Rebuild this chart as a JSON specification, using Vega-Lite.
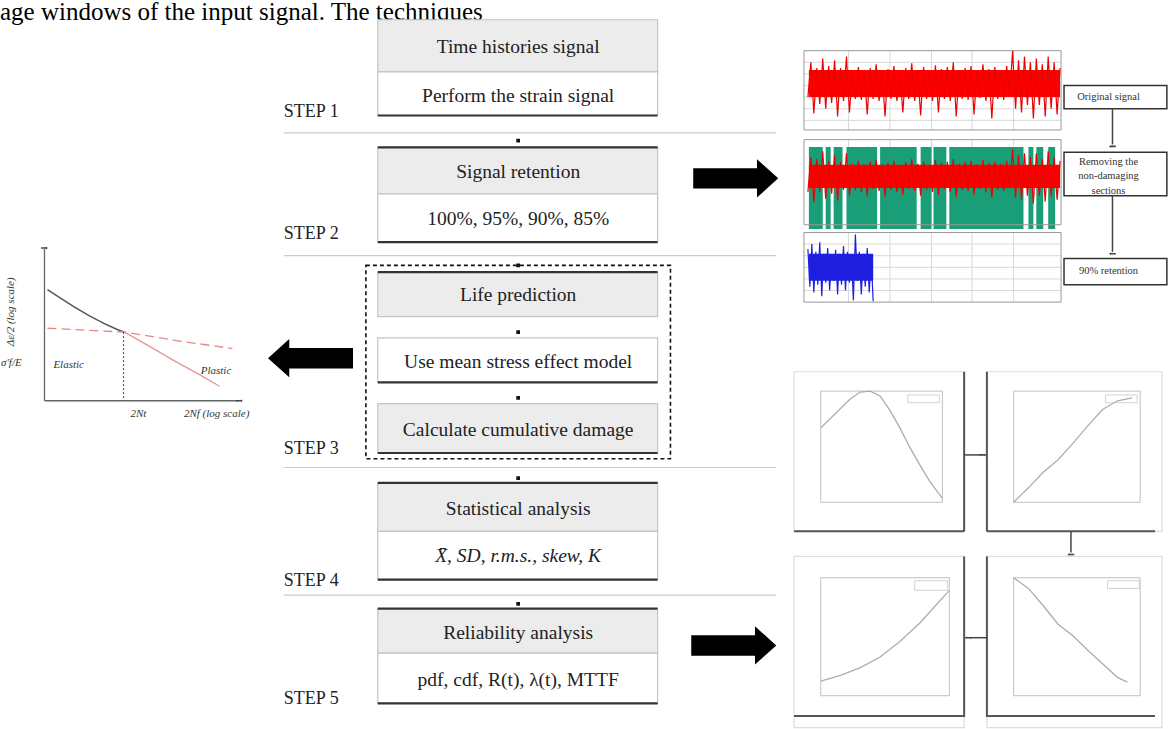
{
  "$schema": "https://vega.github.io/schema/vega-lite/v6.json",
  "width": 1168,
  "height": 729,
  "autosize": {"type": "fit", "contains": "padding"},
  "padding": 0,
  "background": "white",
  "config": {"view": {"stroke": null}},
  "layer": [
    {
      "data": {"values": [{"x": 0, "y": 8, "t": "age windows of the input signal. The techniques"}]},
      "mark": {"type": "text", "align": "left", "baseline": "alphabetic", "font": "Liberation Serif", "fontSize": 25, "color": "#000"},
      "encoding": {
        "x": {"field": "x", "type": "quantitative", "scale": {"domain": [0, 1168], "nice": false, "zero": false}, "axis": null},
        "y": {"field": "y", "type": "quantitative", "scale": {"domain": [0, 729], "nice": false, "zero": false, "reverse": true}, "axis": null},
        "text": {"field": "t"}
      }
    },
    {
      "data": {"values": [
        {"x": 287, "x2": 785, "y": 125}, {"x": 287, "x2": 785, "y": 252},
        {"x": 287, "x2": 785, "y": 471}, {"x": 287, "x2": 785, "y": 603}
      ]},
      "mark": {"type": "rule", "color": "#cccccc", "strokeWidth": 1.2},
      "encoding": {
        "x": {"field": "x", "type": "quantitative", "scale": {"domain": [0, 1168], "nice": false, "zero": false}, "axis": null},
        "x2": {"field": "x2"},
        "y": {"field": "y", "type": "quantitative", "scale": {"domain": [0, 729], "nice": false, "zero": false, "reverse": true}, "axis": null}
      }
    },
    {
      "data": {"values": [
        {"x": 382, "x2": 665, "y": 8, "y2": 62}, {"x": 382, "x2": 665, "y": 140, "y2": 188},
        {"x": 382, "x2": 665, "y": 269, "y2": 315}, {"x": 382, "x2": 665, "y": 405, "y2": 456},
        {"x": 382, "x2": 665, "y": 487, "y2": 537}, {"x": 382, "x2": 665, "y": 617, "y2": 663}
      ]},
      "mark": {"type": "rect", "fill": "#ececec", "stroke": "#c4c4c4", "strokeWidth": 1.2},
      "encoding": {
        "x": {"field": "x", "type": "quantitative", "scale": {"domain": [0, 1168], "nice": false, "zero": false}, "axis": null},
        "x2": {"field": "x2"},
        "y": {"field": "y", "type": "quantitative", "scale": {"domain": [0, 729], "nice": false, "zero": false, "reverse": true}, "axis": null},
        "y2": {"field": "y2"}
      }
    },
    {
      "data": {"values": [
        {"x": 382, "x2": 665, "y": 62, "y2": 107}, {"x": 382, "x2": 665, "y": 188, "y2": 238},
        {"x": 382, "x2": 665, "y": 337, "y2": 383}, {"x": 382, "x2": 665, "y": 537, "y2": 587},
        {"x": 382, "x2": 665, "y": 663, "y2": 715}
      ]},
      "mark": {"type": "rect", "fill": "#ffffff", "stroke": "#c4c4c4", "strokeWidth": 1.2},
      "encoding": {
        "x": {"field": "x", "type": "quantitative", "scale": {"domain": [0, 1168], "nice": false, "zero": false}, "axis": null},
        "x2": {"field": "x2"},
        "y": {"field": "y", "type": "quantitative", "scale": {"domain": [0, 729], "nice": false, "zero": false, "reverse": true}, "axis": null},
        "y2": {"field": "y2"}
      }
    },
    {
      "data": {"values": [
        {"x": 382, "x2": 665, "y": 107}, {"x": 382, "x2": 665, "y": 140}, {"x": 382, "x2": 665, "y": 238},
        {"x": 382, "x2": 665, "y": 269}, {"x": 382, "x2": 665, "y": 383}, {"x": 382, "x2": 665, "y": 456},
        {"x": 382, "x2": 665, "y": 487}, {"x": 382, "x2": 665, "y": 587}, {"x": 382, "x2": 665, "y": 617},
        {"x": 382, "x2": 665, "y": 715}
      ]},
      "mark": {"type": "rule", "color": "#333333", "strokeWidth": 2.2},
      "encoding": {
        "x": {"field": "x", "type": "quantitative", "scale": {"domain": [0, 1168], "nice": false, "zero": false}, "axis": null},
        "x2": {"field": "x2"},
        "y": {"field": "y", "type": "quantitative", "scale": {"domain": [0, 729], "nice": false, "zero": false, "reverse": true}, "axis": null}
      }
    },
    {
      "data": {"values": [{"x": 370, "x2": 678, "y": 262, "y2": 462}]},
      "mark": {"type": "rect", "fill": null, "fillOpacity": 0, "stroke": "#111111", "strokeWidth": 1.6, "strokeDash": [4, 3]},
      "encoding": {
        "x": {"field": "x", "type": "quantitative", "scale": {"domain": [0, 1168], "nice": false, "zero": false}, "axis": null},
        "x2": {"field": "x2"},
        "y": {"field": "y", "type": "quantitative", "scale": {"domain": [0, 729], "nice": false, "zero": false, "reverse": true}, "axis": null},
        "y2": {"field": "y2"}
      }
    },
    {
      "data": {"values": [
        {"x": 524, "y": 133}, {"x": 524, "y": 262}, {"x": 524, "y": 331},
        {"x": 524, "y": 399}, {"x": 524, "y": 482}, {"x": 524, "y": 612}
      ]},
      "mark": {"type": "point", "shape": "square", "filled": true, "size": 14, "color": "#111111", "opacity": 1},
      "encoding": {
        "x": {"field": "x", "type": "quantitative", "scale": {"domain": [0, 1168], "nice": false, "zero": false}, "axis": null},
        "y": {"field": "y", "type": "quantitative", "scale": {"domain": [0, 729], "nice": false, "zero": false, "reverse": true}, "axis": null}
      }
    },
    {
      "data": {"values": [
        {"x": 524, "y": 36, "t": "Time histories signal"},
        {"x": 524, "y": 87, "t": "Perform the strain signal"},
        {"x": 524, "y": 165, "t": "Signal retention"},
        {"x": 524, "y": 214, "t": "100%, 95%, 90%, 85%"},
        {"x": 524, "y": 293, "t": "Life prediction"},
        {"x": 524, "y": 362, "t": "Use mean stress effect model"},
        {"x": 524, "y": 432, "t": "Calculate cumulative damage"},
        {"x": 524, "y": 514, "t": "Statistical analysis"},
        {"x": 524, "y": 642, "t": "Reliability analysis"},
        {"x": 524, "y": 691, "t": "pdf, cdf, R(t), λ(t), MTTF"}
      ]},
      "mark": {"type": "text", "align": "center", "baseline": "middle", "font": "Liberation Serif", "fontSize": 19.5, "color": "#222222"},
      "encoding": {
        "x": {"field": "x", "type": "quantitative", "scale": {"domain": [0, 1168], "nice": false, "zero": false}, "axis": null},
        "y": {"field": "y", "type": "quantitative", "scale": {"domain": [0, 729], "nice": false, "zero": false, "reverse": true}, "axis": null},
        "text": {"field": "t"}
      }
    },
    {
      "data": {"values": [{"x": 524, "y": 563, "t": "X̄, SD, r.m.s., skew, K"}]},
      "mark": {"type": "text", "align": "center", "baseline": "middle", "font": "Liberation Serif", "fontSize": 19.5, "fontStyle": "italic", "color": "#222222"},
      "encoding": {
        "x": {"field": "x", "type": "quantitative", "scale": {"domain": [0, 1168], "nice": false, "zero": false}, "axis": null},
        "y": {"field": "y", "type": "quantitative", "scale": {"domain": [0, 729], "nice": false, "zero": false, "reverse": true}, "axis": null},
        "text": {"field": "t"}
      }
    },
    {
      "data": {"values": [
        {"x": 287, "y": 103, "t": "STEP 1"}, {"x": 287, "y": 230, "t": "STEP 2"},
        {"x": 287, "y": 452, "t": "STEP 3"}, {"x": 287, "y": 588, "t": "STEP 4"},
        {"x": 287, "y": 710, "t": "STEP 5"}
      ]},
      "mark": {"type": "text", "align": "left", "baseline": "middle", "font": "Liberation Serif", "fontSize": 18, "color": "#222222"},
      "encoding": {
        "x": {"field": "x", "type": "quantitative", "scale": {"domain": [0, 1168], "nice": false, "zero": false}, "axis": null},
        "y": {"field": "y", "type": "quantitative", "scale": {"domain": [0, 729], "nice": false, "zero": false, "reverse": true}, "axis": null},
        "text": {"field": "t"}
      }
    },
    {
      "data": {"values": [
        {"x": 744, "y": 172, "dir": "right"}, {"x": 742, "y": 655, "dir": "right"}, {"x": 314, "y": 358, "dir": "left"}
      ]},
      "mark": {"type": "point", "filled": true, "size": 7225, "color": "#000000", "opacity": 1, "strokeWidth": 0},
      "encoding": {
        "x": {"field": "x", "type": "quantitative", "scale": {"domain": [0, 1168], "nice": false, "zero": false}, "axis": null},
        "y": {"field": "y", "type": "quantitative", "scale": {"domain": [0, 729], "nice": false, "zero": false, "reverse": true}, "axis": null},
        "shape": {"field": "dir", "type": "nominal", "legend": null, "scale": {"domain": ["right", "left"], "range": ["M-1,-0.24L0.5,-0.24L0.5,-0.45L1,0L0.5,0.45L0.5,0.24L-1,0.24Z", "M1,-0.24L-0.5,-0.24L-0.5,-0.45L-1,0L-0.5,0.45L-0.5,0.24L1,0.24Z"]}}
      }
    },
    {
      "data": {"values": [
        {"x": 45, "x2": 45, "y": 245, "y2": 402}, {"x": 45, "x2": 241, "y": 402, "y2": 402}
      ]},
      "mark": {"type": "rule", "color": "#666666", "strokeWidth": 1.3},
      "encoding": {
        "x": {"field": "x", "type": "quantitative", "scale": {"domain": [0, 1168], "nice": false, "zero": false}, "axis": null},
        "x2": {"field": "x2"},
        "y": {"field": "y", "type": "quantitative", "scale": {"domain": [0, 729], "nice": false, "zero": false, "reverse": true}, "axis": null},
        "y2": {"field": "y2"}
      }
    },
    {
      "data": {"values": [
        {"x": 48, "y": 287}, {"x": 60, "y": 295}, {"x": 75, "y": 305}, {"x": 90, "y": 314},
        {"x": 105, "y": 322}, {"x": 118, "y": 328}, {"x": 126, "y": 331}
      ]},
      "mark": {"type": "line", "color": "#555555", "strokeWidth": 1.5},
      "encoding": {
        "x": {"field": "x", "type": "quantitative", "scale": {"domain": [0, 1168], "nice": false, "zero": false}, "axis": null},
        "y": {"field": "y", "type": "quantitative", "scale": {"domain": [0, 729], "nice": false, "zero": false, "reverse": true}, "axis": null}
      }
    },
    {
      "data": {"values": [
        {"x": 126, "y": 331}, {"x": 150, "y": 345}, {"x": 175, "y": 360}, {"x": 200, "y": 374}, {"x": 222, "y": 387}
      ]},
      "mark": {"type": "line", "color": "#e79595", "strokeWidth": 1.3},
      "encoding": {
        "x": {"field": "x", "type": "quantitative", "scale": {"domain": [0, 1168], "nice": false, "zero": false}, "axis": null},
        "y": {"field": "y", "type": "quantitative", "scale": {"domain": [0, 729], "nice": false, "zero": false, "reverse": true}, "axis": null}
      }
    },
    {
      "data": {"values": [
        {"x": 48, "y": 327}, {"x": 126, "y": 331}, {"x": 180, "y": 340}, {"x": 235, "y": 348}
      ]},
      "mark": {"type": "line", "color": "#e08a8a", "strokeWidth": 1.3, "strokeDash": [9, 5]},
      "encoding": {
        "x": {"field": "x", "type": "quantitative", "scale": {"domain": [0, 1168], "nice": false, "zero": false}, "axis": null},
        "y": {"field": "y", "type": "quantitative", "scale": {"domain": [0, 729], "nice": false, "zero": false, "reverse": true}, "axis": null}
      }
    },
    {
      "data": {"values": [{"x": 125, "y": 331, "y2": 402}]},
      "mark": {"type": "rule", "color": "#444444", "strokeWidth": 1, "strokeDash": [2, 2]},
      "encoding": {
        "x": {"field": "x", "type": "quantitative", "scale": {"domain": [0, 1168], "nice": false, "zero": false}, "axis": null},
        "y": {"field": "y", "type": "quantitative", "scale": {"domain": [0, 729], "nice": false, "zero": false, "reverse": true}, "axis": null},
        "y2": {"field": "y2"}
      }
    },
    {
      "data": {"values": [
        {"x": 132, "y": 416, "t": "2Nt"}, {"x": 186, "y": 416, "t": "2Nf (log scale)"},
        {"x": 54, "y": 365, "t": "Elastic"}, {"x": 203, "y": 371, "t": "Plastic"},
        {"x": 1, "y": 363, "t": "σ′f/E"}
      ]},
      "mark": {"type": "text", "align": "left", "baseline": "middle", "font": "Liberation Serif", "fontSize": 11, "fontStyle": "italic", "color": "#333333"},
      "encoding": {
        "x": {"field": "x", "type": "quantitative", "scale": {"domain": [0, 1168], "nice": false, "zero": false}, "axis": null},
        "y": {"field": "y", "type": "quantitative", "scale": {"domain": [0, 729], "nice": false, "zero": false, "reverse": true}, "axis": null},
        "text": {"field": "t"}
      }
    },
    {
      "data": {"values": [{"x": 11, "y": 310, "t": "Δε/2 (log scale)"}]},
      "mark": {"type": "text", "align": "center", "baseline": "middle", "angle": 270, "font": "Liberation Serif", "fontSize": 11, "fontStyle": "italic", "color": "#333333"},
      "encoding": {
        "x": {"field": "x", "type": "quantitative", "scale": {"domain": [0, 1168], "nice": false, "zero": false}, "axis": null},
        "y": {"field": "y", "type": "quantitative", "scale": {"domain": [0, 729], "nice": false, "zero": false, "reverse": true}, "axis": null},
        "text": {"field": "t"}
      }
    },
    {
      "data": {"values": [
        {"x": 858, "x2": 858, "y": 40, "y2": 122}, {"x": 900, "x2": 900, "y": 40, "y2": 122}, {"x": 942, "x2": 942, "y": 40, "y2": 122}, {"x": 983, "x2": 983, "y": 40, "y2": 122}, {"x": 1025, "x2": 1025, "y": 40, "y2": 122},
        {"x": 858, "x2": 858, "y": 132, "y2": 220}, {"x": 900, "x2": 900, "y": 132, "y2": 220}, {"x": 942, "x2": 942, "y": 132, "y2": 220}, {"x": 983, "x2": 983, "y": 132, "y2": 220}, {"x": 1025, "x2": 1025, "y": 132, "y2": 220},
        {"x": 858, "x2": 858, "y": 228, "y2": 300}, {"x": 900, "x2": 900, "y": 228, "y2": 300}, {"x": 942, "x2": 942, "y": 228, "y2": 300}, {"x": 983, "x2": 983, "y": 228, "y2": 300}, {"x": 1025, "x2": 1025, "y": 228, "y2": 300},
        {"x": 813, "x2": 1073, "y": 52, "y2": 52}, {"x": 813, "x2": 1073, "y": 64, "y2": 64}, {"x": 813, "x2": 1073, "y": 76, "y2": 76}, {"x": 813, "x2": 1073, "y": 88, "y2": 88}, {"x": 813, "x2": 1073, "y": 100, "y2": 100}, {"x": 813, "x2": 1073, "y": 112, "y2": 112},
        {"x": 813, "x2": 1073, "y": 240, "y2": 240}, {"x": 813, "x2": 1073, "y": 252, "y2": 252}, {"x": 813, "x2": 1073, "y": 264, "y2": 264}, {"x": 813, "x2": 1073, "y": 276, "y2": 276}, {"x": 813, "x2": 1073, "y": 288, "y2": 288}
      ]},
      "mark": {"type": "rule", "color": "#d8d8d8", "strokeWidth": 1},
      "encoding": {
        "x": {"field": "x", "type": "quantitative", "scale": {"domain": [0, 1168], "nice": false, "zero": false}, "axis": null},
        "x2": {"field": "x2"},
        "y": {"field": "y", "type": "quantitative", "scale": {"domain": [0, 729], "nice": false, "zero": false, "reverse": true}, "axis": null},
        "y2": {"field": "y2"}
      }
    },
    {
      "data": {"values": [
        {"x": 818, "x2": 832}, {"x": 835, "x2": 840}, {"x": 843, "x2": 852}, {"x": 856, "x2": 887},
        {"x": 890, "x2": 927}, {"x": 931, "x2": 942}, {"x": 944, "x2": 957}, {"x": 960, "x2": 1035},
        {"x": 1040, "x2": 1045}, {"x": 1048, "x2": 1055}, {"x": 1060, "x2": 1067}
      ]},
      "mark": {"type": "rect", "color": "#1a9e77", "y": 135, "y2": 217, "opacity": 1},
      "encoding": {
        "x": {"field": "x", "type": "quantitative", "scale": {"domain": [0, 1168], "nice": false, "zero": false}, "axis": null},
        "x2": {"field": "x2"}
      }
    },
    {
      "data": {"values": [
        {"x": 813, "x2": 1073, "y": 40, "y2": 122}, {"x": 813, "x2": 1073, "y": 132, "y2": 220}, {"x": 813, "x2": 1073, "y": 228, "y2": 300}
      ]},
      "mark": {"type": "rect", "fill": null, "fillOpacity": 0, "stroke": "#999999", "strokeWidth": 1},
      "encoding": {
        "x": {"field": "x", "type": "quantitative", "scale": {"domain": [0, 1168], "nice": false, "zero": false}, "axis": null},
        "x2": {"field": "x2"},
        "y": {"field": "y", "type": "quantitative", "scale": {"domain": [0, 729], "nice": false, "zero": false, "reverse": true}, "axis": null},
        "y2": {"field": "y2"}
      }
    },
    {
      "data": {"values": [
        {"x": 818, "x2": 1072, "y": 60, "y2": 88}, {"x": 818, "x2": 1072, "y": 158, "y2": 182}
      ]},
      "mark": {"type": "rect", "color": "#ff0000", "opacity": 1},
      "encoding": {
        "x": {"field": "x", "type": "quantitative", "scale": {"domain": [0, 1168], "nice": false, "zero": false}, "axis": null},
        "x2": {"field": "x2"},
        "y": {"field": "y", "type": "quantitative", "scale": {"domain": [0, 729], "nice": false, "zero": false, "reverse": true}, "axis": null},
        "y2": {"field": "y2"}
      }
    },
    {
      "data": {"values": [
        {"s": 1, "x": 817, "y": 88}, {"s": 1, "x": 820, "y": 52}, {"s": 1, "x": 823, "y": 105}, {"s": 1, "x": 826, "y": 58}, {"s": 1, "x": 829, "y": 95}, {"s": 1, "x": 832, "y": 48}, {"s": 1, "x": 835, "y": 100}, {"s": 1, "x": 838, "y": 56}, {"s": 1, "x": 841, "y": 94}, {"s": 1, "x": 844, "y": 50}, {"s": 1, "x": 847, "y": 108}, {"s": 1, "x": 850, "y": 58}, {"s": 1, "x": 853, "y": 92}, {"s": 1, "x": 856, "y": 46}, {"s": 1, "x": 859, "y": 104},
        {"s": 1, "x": 862, "y": 62}, {"s": 1, "x": 865, "y": 90}, {"s": 1, "x": 868, "y": 57}, {"s": 1, "x": 871, "y": 91}, {"s": 1, "x": 874, "y": 60}, {"s": 1, "x": 877, "y": 106}, {"s": 1, "x": 880, "y": 58}, {"s": 1, "x": 883, "y": 90}, {"s": 1, "x": 886, "y": 54}, {"s": 1, "x": 889, "y": 92}, {"s": 1, "x": 892, "y": 61}, {"s": 1, "x": 895, "y": 108}, {"s": 1, "x": 898, "y": 59}, {"s": 1, "x": 901, "y": 90}, {"s": 1, "x": 904, "y": 56}, {"s": 1, "x": 907, "y": 92}, {"s": 1, "x": 910, "y": 62}, {"s": 1, "x": 913, "y": 104}, {"s": 1, "x": 916, "y": 58}, {"s": 1, "x": 919, "y": 90}, {"s": 1, "x": 922, "y": 53}, {"s": 1, "x": 925, "y": 92}, {"s": 1, "x": 928, "y": 60}, {"s": 1, "x": 931, "y": 107}, {"s": 1, "x": 934, "y": 57}, {"s": 1, "x": 937, "y": 90}, {"s": 1, "x": 940, "y": 61}, {"s": 1, "x": 943, "y": 92}, {"s": 1, "x": 946, "y": 55}, {"s": 1, "x": 949, "y": 104}, {"s": 1, "x": 952, "y": 59}, {"s": 1, "x": 955, "y": 90}, {"s": 1, "x": 958, "y": 57}, {"s": 1, "x": 961, "y": 92}, {"s": 1, "x": 964, "y": 52}, {"s": 1, "x": 967, "y": 108}, {"s": 1, "x": 970, "y": 60}, {"s": 1, "x": 973, "y": 90}, {"s": 1, "x": 976, "y": 58}, {"s": 1, "x": 979, "y": 91}, {"s": 1, "x": 982, "y": 56}, {"s": 1, "x": 985, "y": 106}, {"s": 1, "x": 988, "y": 61}, {"s": 1, "x": 991, "y": 89}, {"s": 1, "x": 994, "y": 54}, {"s": 1, "x": 997, "y": 92}, {"s": 1, "x": 1000, "y": 59}, {"s": 1, "x": 1003, "y": 110}, {"s": 1, "x": 1006, "y": 57}, {"s": 1, "x": 1009, "y": 90}, {"s": 1, "x": 1012, "y": 60}, {"s": 1, "x": 1015, "y": 91}, {"s": 1, "x": 1018, "y": 56}, {"s": 1, "x": 1021, "y": 86},
        {"s": 1, "x": 1024, "y": 40}, {"s": 1, "x": 1027, "y": 100}, {"s": 1, "x": 1030, "y": 50}, {"s": 1, "x": 1033, "y": 104}, {"s": 1, "x": 1036, "y": 46}, {"s": 1, "x": 1039, "y": 96}, {"s": 1, "x": 1042, "y": 52}, {"s": 1, "x": 1045, "y": 110}, {"s": 1, "x": 1048, "y": 48}, {"s": 1, "x": 1051, "y": 96}, {"s": 1, "x": 1054, "y": 54}, {"s": 1, "x": 1057, "y": 108}, {"s": 1, "x": 1060, "y": 46}, {"s": 1, "x": 1063, "y": 100}, {"s": 1, "x": 1066, "y": 52}, {"s": 1, "x": 1069, "y": 106}, {"s": 1, "x": 1072, "y": 58},
        {"s": 2, "x": 817, "y": 186}, {"s": 2, "x": 820, "y": 150}, {"s": 2, "x": 823, "y": 197}, {"s": 2, "x": 826, "y": 152}, {"s": 2, "x": 829, "y": 186}, {"s": 2, "x": 832, "y": 144}, {"s": 2, "x": 835, "y": 193}, {"s": 2, "x": 838, "y": 154}, {"s": 2, "x": 841, "y": 188}, {"s": 2, "x": 844, "y": 148}, {"s": 2, "x": 847, "y": 195}, {"s": 2, "x": 850, "y": 155}, {"s": 2, "x": 853, "y": 184}, {"s": 2, "x": 856, "y": 146}, {"s": 2, "x": 859, "y": 190},
        {"s": 2, "x": 862, "y": 157}, {"s": 2, "x": 865, "y": 184}, {"s": 2, "x": 868, "y": 154}, {"s": 2, "x": 871, "y": 186}, {"s": 2, "x": 874, "y": 158}, {"s": 2, "x": 877, "y": 190}, {"s": 2, "x": 880, "y": 155}, {"s": 2, "x": 883, "y": 183}, {"s": 2, "x": 886, "y": 153}, {"s": 2, "x": 889, "y": 185}, {"s": 2, "x": 892, "y": 158}, {"s": 2, "x": 895, "y": 191}, {"s": 2, "x": 898, "y": 156}, {"s": 2, "x": 901, "y": 184}, {"s": 2, "x": 904, "y": 154}, {"s": 2, "x": 907, "y": 186}, {"s": 2, "x": 910, "y": 159}, {"s": 2, "x": 913, "y": 189}, {"s": 2, "x": 916, "y": 155}, {"s": 2, "x": 919, "y": 183}, {"s": 2, "x": 922, "y": 152}, {"s": 2, "x": 925, "y": 185}, {"s": 2, "x": 928, "y": 157}, {"s": 2, "x": 931, "y": 190}, {"s": 2, "x": 934, "y": 155}, {"s": 2, "x": 937, "y": 184}, {"s": 2, "x": 940, "y": 158}, {"s": 2, "x": 943, "y": 186}, {"s": 2, "x": 946, "y": 153}, {"s": 2, "x": 949, "y": 189}, {"s": 2, "x": 952, "y": 156}, {"s": 2, "x": 955, "y": 183}, {"s": 2, "x": 958, "y": 155}, {"s": 2, "x": 961, "y": 186}, {"s": 2, "x": 964, "y": 152}, {"s": 2, "x": 967, "y": 191}, {"s": 2, "x": 970, "y": 157}, {"s": 2, "x": 973, "y": 184}, {"s": 2, "x": 976, "y": 155}, {"s": 2, "x": 979, "y": 185}, {"s": 2, "x": 982, "y": 154}, {"s": 2, "x": 985, "y": 189}, {"s": 2, "x": 988, "y": 158}, {"s": 2, "x": 991, "y": 183}, {"s": 2, "x": 994, "y": 153}, {"s": 2, "x": 997, "y": 186}, {"s": 2, "x": 1000, "y": 156}, {"s": 2, "x": 1003, "y": 192}, {"s": 2, "x": 1006, "y": 155}, {"s": 2, "x": 1009, "y": 184}, {"s": 2, "x": 1012, "y": 157}, {"s": 2, "x": 1015, "y": 185}, {"s": 2, "x": 1018, "y": 154}, {"s": 2, "x": 1021, "y": 182},
        {"s": 2, "x": 1024, "y": 142}, {"s": 2, "x": 1027, "y": 192}, {"s": 2, "x": 1030, "y": 148}, {"s": 2, "x": 1033, "y": 194}, {"s": 2, "x": 1036, "y": 146}, {"s": 2, "x": 1039, "y": 190}, {"s": 2, "x": 1042, "y": 150}, {"s": 2, "x": 1045, "y": 198}, {"s": 2, "x": 1048, "y": 146}, {"s": 2, "x": 1051, "y": 190}, {"s": 2, "x": 1054, "y": 152}, {"s": 2, "x": 1057, "y": 196}, {"s": 2, "x": 1060, "y": 144}, {"s": 2, "x": 1063, "y": 190}, {"s": 2, "x": 1066, "y": 150}, {"s": 2, "x": 1069, "y": 194}, {"s": 2, "x": 1072, "y": 154}
      ]},
      "mark": {"type": "line", "color": "#ee0000", "strokeWidth": 1.2},
      "encoding": {
        "x": {"field": "x", "type": "quantitative", "scale": {"domain": [0, 1168], "nice": false, "zero": false}, "axis": null},
        "y": {"field": "y", "type": "quantitative", "scale": {"domain": [0, 729], "nice": false, "zero": false, "reverse": true}, "axis": null},
        "detail": {"field": "s", "type": "nominal"}
      }
    },
    {
      "data": {"values": [{"x": 818, "x2": 883, "y": 250, "y2": 278}]},
      "mark": {"type": "rect", "color": "#1f1fe0", "opacity": 1},
      "encoding": {
        "x": {"field": "x", "type": "quantitative", "scale": {"domain": [0, 1168], "nice": false, "zero": false}, "axis": null},
        "x2": {"field": "x2"},
        "y": {"field": "y", "type": "quantitative", "scale": {"domain": [0, 729], "nice": false, "zero": false, "reverse": true}, "axis": null},
        "y2": {"field": "y2"}
      }
    },
    {
      "data": {"values": [
        {"x": 817, "y": 245}, {"x": 819, "y": 284}, {"x": 821, "y": 240}, {"x": 823, "y": 290}, {"x": 825, "y": 248}, {"x": 827, "y": 282}, {"x": 829, "y": 238}, {"x": 831, "y": 294}, {"x": 833, "y": 250}, {"x": 835, "y": 280}, {"x": 837, "y": 244}, {"x": 839, "y": 288}, {"x": 841, "y": 252}, {"x": 843, "y": 278}, {"x": 845, "y": 246}, {"x": 847, "y": 292}, {"x": 849, "y": 250}, {"x": 851, "y": 282}, {"x": 853, "y": 242}, {"x": 855, "y": 288}, {"x": 857, "y": 248}, {"x": 859, "y": 280}, {"x": 861, "y": 252}, {"x": 863, "y": 298}, {"x": 865, "y": 230}, {"x": 867, "y": 278}, {"x": 869, "y": 248}, {"x": 871, "y": 292}, {"x": 873, "y": 250}, {"x": 875, "y": 284}, {"x": 877, "y": 244}, {"x": 879, "y": 290}, {"x": 881, "y": 254}, {"x": 883, "y": 299}
      ]},
      "mark": {"type": "line", "color": "#1f1fe0", "strokeWidth": 1.2},
      "encoding": {
        "x": {"field": "x", "type": "quantitative", "scale": {"domain": [0, 1168], "nice": false, "zero": false}, "axis": null},
        "y": {"field": "y", "type": "quantitative", "scale": {"domain": [0, 729], "nice": false, "zero": false, "reverse": true}, "axis": null}
      }
    },
    {
      "data": {"values": [
        {"x": 1076, "x2": 1180, "y": 76, "y2": 100}, {"x": 1076, "x2": 1180, "y": 145, "y2": 190}, {"x": 1076, "x2": 1180, "y": 255, "y2": 282}
      ]},
      "mark": {"type": "rect", "fill": "#ffffff", "stroke": "#333333", "strokeWidth": 1.5},
      "encoding": {
        "x": {"field": "x", "type": "quantitative", "scale": {"domain": [0, 1168], "nice": false, "zero": false}, "axis": null},
        "x2": {"field": "x2"},
        "y": {"field": "y", "type": "quantitative", "scale": {"domain": [0, 729], "nice": false, "zero": false, "reverse": true}, "axis": null},
        "y2": {"field": "y2"}
      }
    },
    {
      "data": {"values": [
        {"x": 1121, "y": 88, "t": "Original signal"},
        {"x": 1121, "y": 155, "t": "Removing the"},
        {"x": 1121, "y": 170, "t": "non-damaging"},
        {"x": 1121, "y": 185, "t": "sections"},
        {"x": 1121, "y": 268, "t": "90% retention"}
      ]},
      "mark": {"type": "text", "align": "center", "baseline": "middle", "font": "Liberation Serif", "fontSize": 10.5, "color": "#333333"},
      "encoding": {
        "x": {"field": "x", "type": "quantitative", "scale": {"domain": [0, 1168], "nice": false, "zero": false}, "axis": null},
        "y": {"field": "y", "type": "quantitative", "scale": {"domain": [0, 729], "nice": false, "zero": false, "reverse": true}, "axis": null},
        "text": {"field": "t"}
      }
    },
    {
      "data": {"values": [
        {"x": 803, "x2": 975, "y": 372, "y2": 537}, {"x": 998, "x2": 1175, "y": 372, "y2": 537},
        {"x": 803, "x2": 975, "y": 563, "y2": 740}, {"x": 998, "x2": 1175, "y": 563, "y2": 740}
      ]},
      "mark": {"type": "rect", "fill": "#ffffff", "stroke": "#dddddd", "strokeWidth": 1.2},
      "encoding": {
        "x": {"field": "x", "type": "quantitative", "scale": {"domain": [0, 1168], "nice": false, "zero": false}, "axis": null},
        "x2": {"field": "x2"},
        "y": {"field": "y", "type": "quantitative", "scale": {"domain": [0, 729], "nice": false, "zero": false, "reverse": true}, "axis": null},
        "y2": {"field": "y2"}
      }
    },
    {
      "data": {"values": [
        {"x": 975, "x2": 975, "y": 372, "y2": 537}, {"x": 998, "x2": 998, "y": 372, "y2": 537},
        {"x": 803, "x2": 975, "y": 537, "y2": 537}, {"x": 998, "x2": 1168, "y": 537, "y2": 537},
        {"x": 975, "x2": 975, "y": 563, "y2": 729}, {"x": 998, "x2": 998, "y": 563, "y2": 729},
        {"x": 803, "x2": 975, "y": 728, "y2": 728}, {"x": 998, "x2": 1168, "y": 728, "y2": 728}
      ]},
      "mark": {"type": "rule", "color": "#555555", "strokeWidth": 2},
      "encoding": {
        "x": {"field": "x", "type": "quantitative", "scale": {"domain": [0, 1168], "nice": false, "zero": false}, "axis": null},
        "x2": {"field": "x2"},
        "y": {"field": "y", "type": "quantitative", "scale": {"domain": [0, 729], "nice": false, "zero": false, "reverse": true}, "axis": null},
        "y2": {"field": "y2"}
      }
    },
    {
      "data": {"values": [
        {"x": 830, "x2": 953, "y": 392, "y2": 507}, {"x": 1025, "x2": 1153, "y": 392, "y2": 507},
        {"x": 830, "x2": 960, "y": 585, "y2": 707}, {"x": 1025, "x2": 1153, "y": 585, "y2": 707}
      ]},
      "mark": {"type": "rect", "fill": null, "fillOpacity": 0, "stroke": "#c0c0c0", "strokeWidth": 1},
      "encoding": {
        "x": {"field": "x", "type": "quantitative", "scale": {"domain": [0, 1168], "nice": false, "zero": false}, "axis": null},
        "x2": {"field": "x2"},
        "y": {"field": "y", "type": "quantitative", "scale": {"domain": [0, 729], "nice": false, "zero": false, "reverse": true}, "axis": null},
        "y2": {"field": "y2"}
      }
    },
    {
      "data": {"values": [
        {"x": 918, "x2": 950, "y": 396, "y2": 404}, {"x": 1118, "x2": 1150, "y": 396, "y2": 404},
        {"x": 925, "x2": 958, "y": 588, "y2": 598}, {"x": 1120, "x2": 1152, "y": 588, "y2": 596}
      ]},
      "mark": {"type": "rect", "fill": "#ffffff", "stroke": "#c8c8c8", "strokeWidth": 0.8},
      "encoding": {
        "x": {"field": "x", "type": "quantitative", "scale": {"domain": [0, 1168], "nice": false, "zero": false}, "axis": null},
        "x2": {"field": "x2"},
        "y": {"field": "y", "type": "quantitative", "scale": {"domain": [0, 729], "nice": false, "zero": false, "reverse": true}, "axis": null},
        "y2": {"field": "y2"}
      }
    },
    {
      "data": {"values": [
        {"p": "A", "x": 830, "y": 430}, {"p": "A", "x": 840, "y": 420}, {"p": "A", "x": 850, "y": 410}, {"p": "A", "x": 860, "y": 400}, {"p": "A", "x": 870, "y": 393}, {"p": "A", "x": 880, "y": 392}, {"p": "A", "x": 890, "y": 397}, {"p": "A", "x": 900, "y": 412}, {"p": "A", "x": 910, "y": 430}, {"p": "A", "x": 920, "y": 450}, {"p": "A", "x": 930, "y": 468}, {"p": "A", "x": 940, "y": 485}, {"p": "A", "x": 953, "y": 503},
        {"p": "B", "x": 1025, "y": 507}, {"p": "B", "x": 1040, "y": 492}, {"p": "B", "x": 1055, "y": 476}, {"p": "B", "x": 1070, "y": 463}, {"p": "B", "x": 1085, "y": 446}, {"p": "B", "x": 1100, "y": 428}, {"p": "B", "x": 1115, "y": 411}, {"p": "B", "x": 1130, "y": 402}, {"p": "B", "x": 1145, "y": 399},
        {"p": "C", "x": 830, "y": 692}, {"p": "C", "x": 850, "y": 686}, {"p": "C", "x": 870, "y": 678}, {"p": "C", "x": 890, "y": 667}, {"p": "C", "x": 910, "y": 651}, {"p": "C", "x": 930, "y": 632}, {"p": "C", "x": 945, "y": 615}, {"p": "C", "x": 960, "y": 598},
        {"p": "D", "x": 1025, "y": 585}, {"p": "D", "x": 1040, "y": 596}, {"p": "D", "x": 1055, "y": 614}, {"p": "D", "x": 1070, "y": 633}, {"p": "D", "x": 1085, "y": 645}, {"p": "D", "x": 1100, "y": 660}, {"p": "D", "x": 1115, "y": 674}, {"p": "D", "x": 1130, "y": 688}, {"p": "D", "x": 1140, "y": 693}
      ]},
      "mark": {"type": "line", "color": "#adadad", "strokeWidth": 1.3},
      "encoding": {
        "x": {"field": "x", "type": "quantitative", "scale": {"domain": [0, 1168], "nice": false, "zero": false}, "axis": null},
        "y": {"field": "y", "type": "quantitative", "scale": {"domain": [0, 729], "nice": false, "zero": false, "reverse": true}, "axis": null},
        "detail": {"field": "p", "type": "nominal"}
      }
    },
    {
      "data": {"values": [
        {"x": 1125, "x2": 1125, "y": 100, "y2": 137}, {"x": 1125, "x2": 1125, "y": 190, "y2": 248},
        {"x": 975, "x2": 992, "y": 458, "y2": 458}, {"x": 1083, "x2": 1083, "y": 537, "y2": 559},
        {"x": 998, "x2": 981, "y": 647, "y2": 647}
      ]},
      "mark": {"type": "rule", "color": "#444444", "strokeWidth": 1.5},
      "encoding": {
        "x": {"field": "x", "type": "quantitative", "scale": {"domain": [0, 1168], "nice": false, "zero": false}, "axis": null},
        "x2": {"field": "x2"},
        "y": {"field": "y", "type": "quantitative", "scale": {"domain": [0, 729], "nice": false, "zero": false, "reverse": true}, "axis": null},
        "y2": {"field": "y2"}
      }
    },
    {
      "data": {"values": [
        {"x": 1125, "y": 139, "dir": "down"}, {"x": 1125, "y": 250, "dir": "down"},
        {"x": 994, "y": 458, "dir": "right"}, {"x": 1083, "y": 561, "dir": "down"},
        {"x": 979, "y": 647, "dir": "left"}, {"x": 45, "y": 244, "dir": "up"}, {"x": 242, "y": 402, "dir": "right"}
      ]},
      "mark": {"type": "point", "filled": true, "size": 45, "color": "#444444", "opacity": 1},
      "encoding": {
        "x": {"field": "x", "type": "quantitative", "scale": {"domain": [0, 1168], "nice": false, "zero": false}, "axis": null},
        "y": {"field": "y", "type": "quantitative", "scale": {"domain": [0, 729], "nice": false, "zero": false, "reverse": true}, "axis": null},
        "shape": {"field": "dir", "type": "nominal", "legend": null, "scale": {"domain": ["up", "down", "left", "right"], "range": ["triangle-up", "triangle-down", "triangle-left", "triangle-right"]}}
      }
    }
  ]
}
